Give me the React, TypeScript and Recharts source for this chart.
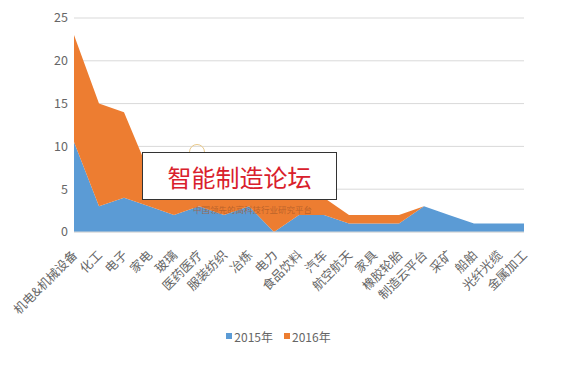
import { AreaChart, Area, XAxis, YAxis, CartesianGrid, Legend } from "recharts";

const categories = [
  "机电&机械设备",
  "化工",
  "电子",
  "家电",
  "玻璃",
  "医药医疗",
  "服装纺织",
  "冶炼",
  "电力",
  "食品饮料",
  "汽车",
  "航空航天",
  "家具",
  "橡胶轮胎",
  "制造云平台",
  "采矿",
  "船舶",
  "光纤光缆",
  "金属加工",
];
const values2015 = [10.5, 3, 4, 3, 2, 3, 2, 3, 0, 2, 2, 1, 1, 1, 3, 2, 1, 1, 1];
const values2016 = [12.5, 12, 10, 4, 3, 2, 2, 2, 4, 2, 2, 1, 1, 1, 0, 0, 0, 0, 0];
const yTicks = [0, 5, 10, 15, 20, 25];

const data = categories.map((name, i) => ({
  name,
  y2015: values2015[i],
  y2016: values2016[i],
}));

const FONT = "'Noto Sans CJK SC', 'Noto Sans', sans-serif";
const BLUE = "#5B9BD5";
const ORANGE = "#ED7D31";

const AngledTick = (props: any) => {
  const { x, y, payload } = props;
  return (
    <g transform={`translate(${x + 4},${y + 16})`}>
      <text
        x={0}
        y={0}
        textAnchor="end"
        transform="rotate(-45)"
        fontSize={12.5}
        fill="#666"
        fontFamily={FONT}
      >
        {payload.value}
      </text>
    </g>
  );
};

const LegendContent = () => (
  <div
    style={{
      display: "flex",
      justifyContent: "center",
      alignItems: "center",
      fontFamily: FONT,
      fontSize: 12,
      color: "#666",
      height: 20,
      paddingRight: 8,
    }}
  >
    <span style={{ display: "flex", alignItems: "center", marginRight: 11 }}>
      <span style={{ width: 6, height: 6, background: BLUE, marginRight: 2 }} />
      2015年
    </span>
    <span style={{ display: "flex", alignItems: "center" }}>
      <span style={{ width: 6, height: 6, background: ORANGE, marginRight: 2 }} />
      2016年
    </span>
  </div>
);

export default function App() {
  return (
    <div
      style={{
        position: "fixed",
        left: 0,
        top: 0,
        width: 565,
        height: 376,
        background: "#fff",
      }}
    >
      <AreaChart
        width={565}
        height={376}
        data={data}
        margin={{ top: 18, right: 41, left: 14, bottom: 30 }}
      >
        <CartesianGrid vertical={false} stroke="#d9d9d9" />
        <XAxis
          dataKey="name"
          interval={0}
          height={94}
          tickLine={false}
          axisLine={{ stroke: "#d9d9d9" }}
          tick={<AngledTick />}
        />
        <YAxis
          domain={[0, 25]}
          ticks={yTicks}
          width={60}
          tickLine={false}
          axisLine={false}
          tickMargin={0}
          tick={{ fontSize: 12.5, fill: "#666", fontFamily: FONT }}
        />
        <Area
          type="linear"
          dataKey="y2015"
          stackId="1"
          stroke="none"
          fill={BLUE}
          fillOpacity={1}
          isAnimationActive={false}
        />
        <Area
          type="linear"
          dataKey="y2016"
          stackId="1"
          stroke="none"
          fill={ORANGE}
          fillOpacity={1}
          isAnimationActive={false}
        />
        <Legend
          verticalAlign="bottom"
          content={<LegendContent />}
          wrapperStyle={{ top: 326, left: 0, width: 565, height: 20 }}
        />
      </AreaChart>
      <div
        style={{
          position: "absolute",
          left: 189,
          top: 144,
          width: 14,
          height: 14,
          borderRadius: "50%",
          border: "1.5px solid #e9c98a",
        }}
      />
      <div
        style={{
          position: "absolute",
          left: 142,
          top: 152,
          width: 193,
          height: 46,
          border: "1.5px solid #333",
          background: "#fff",
          display: "flex",
          alignItems: "center",
          justifyContent: "center",
          fontFamily: FONT,
          fontSize: 24,
          color: "#d9202c",
        }}
      >
        智能制造论坛
      </div>
      <div
        style={{
          position: "absolute",
          left: 193,
          top: 203,
          fontFamily: FONT,
          fontSize: 8.5,
          color: "rgba(170,90,40,0.75)",
          whiteSpace: "nowrap",
        }}
      >
        中国领先的高科技行业研究平台
      </div>
    </div>
  );
}
